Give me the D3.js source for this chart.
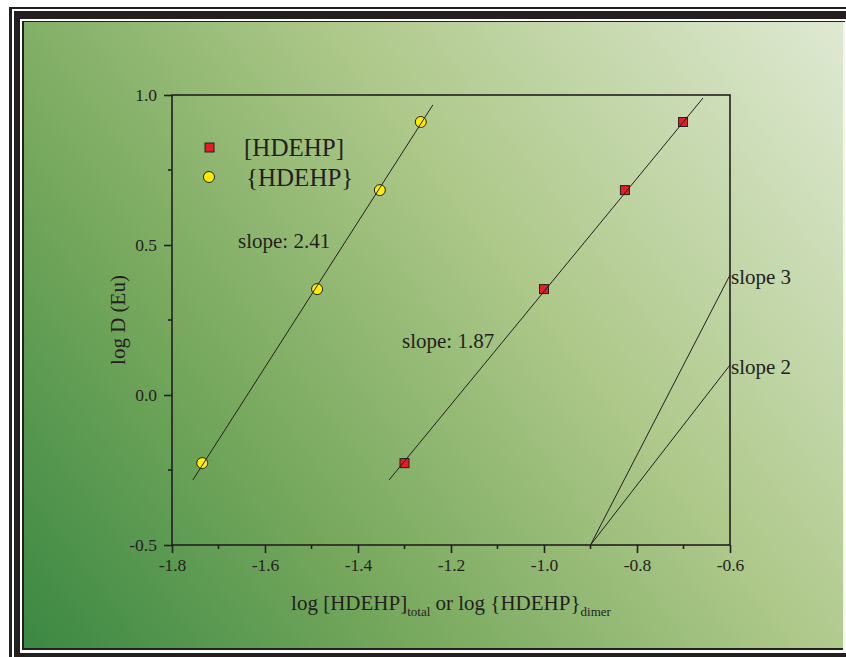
<!DOCTYPE html>
<html>
<head>
<meta charset="utf-8">
<script src="https://cdn.jsdelivr.net/npm/d3@7/dist/d3.min.js"></script>
<style>
  html, body { margin: 0; padding: 0; background: #fff; }
  svg { display: block; }
  text { font-family: "Liberation Serif", "DejaVu Serif", serif; fill: #231f20; }
</style>
</head>
<body>
<div id="chart"></div>
<script>
// data
const totalX = [-1.30, -1.00, -0.826, -0.701];
const totalY = [-0.227, 0.353, 0.683, 0.91];
const dimerX = [-1.735, -1.488, -1.353, -1.265];
const dimerY = [-0.227, 0.353, 0.683, 0.91];

// fitted lines, end points [x0, y0, x1, y1]
const fitTotal = [-1.333, -0.283, -0.658, 0.99];
const fitDimer = [-1.755, -0.283, -1.239, 0.967];

// reference slopes from (-0.9, -0.5) to x = -0.6
const refSlopes = [
  { name: 'slope 3', x0: -0.9, y0: -0.5, x1: -0.6, y1: 0.4 },
  { name: 'slope 2', x0: -0.9, y0: -0.5, x1: -0.6, y1: 0.1 }
];

const xTicks = [-1.8, -1.6, -1.4, -1.2, -1.0, -0.8, -0.6];
const yTicks = [-0.5, 0.0, 0.5, 1.0];
const xMinor = [-1.7, -1.5, -1.3, -1.1, -0.9, -0.7];
const yMinor = [-0.25, 0.25, 0.75];

const W = 846, H = 657;
const plot = { left: 172, right: 730, top: 95, bottom: 545 };
const ink = '#231f20';

const svg = d3.select('#chart').append('svg')
  .attr('width', W)
  .attr('height', H);

const grad = svg.append('defs').append('linearGradient')
  .attr('id', 'bg')
  .attr('gradientUnits', 'userSpaceOnUse')
  .attr('x1', 24).attr('y1', 648)
  .attr('x2', 843).attr('y2', 22);
grad.append('stop').attr('offset', 0).attr('stop-color', '#3b8843');
grad.append('stop').attr('offset', 0.3).attr('stop-color', '#76a85d');
grad.append('stop').attr('offset', 0.6).attr('stop-color', '#adc889');
grad.append('stop').attr('offset', 1).attr('stop-color', '#dfe9d2');

// frame: thin black, white gap, thick black, white gap, thin dark
svg.append('rect').attr('x', 9).attr('y', 7).attr('width', 850).attr('height', 660).attr('fill', ink);
svg.append('rect').attr('x', 12).attr('y', 9).attr('width', 850).attr('height', 660).attr('fill', '#fff');
svg.append('rect').attr('x', 14).attr('y', 11).attr('width', 850).attr('height', 660).attr('fill', ink);
svg.append('rect').attr('x', 20).attr('y', 19).attr('width', 826).attr('height', 634).attr('fill', '#fff');
svg.append('rect').attr('x', 22).attr('y', 21).attr('width', 823).attr('height', 629).attr('fill', ink);
svg.append('rect').attr('x', 24).attr('y', 22).attr('width', 819).attr('height', 626).attr('fill', 'url(#bg)');
svg.append('rect').attr('x', 843).attr('y', 22).attr('width', 2).attr('height', 628).attr('fill', '#f4f4f0');

const x = d3.scaleLinear().domain([-1.8, -0.6]).range([plot.left, plot.right]);
const y = d3.scaleLinear().domain([-0.5, 1.0]).range([plot.bottom, plot.top]);
const fmt = d => d3.format('.1f')(d).replace('−', '-');

// axes
const xAxis = svg.append('g')
  .attr('transform', `translate(0,${plot.bottom})`)
  .call(d3.axisBottom(x).tickValues(xTicks).tickSize(8).tickPadding(6).tickFormat(fmt));
const yAxis = svg.append('g')
  .attr('transform', `translate(${plot.left},0)`)
  .call(d3.axisLeft(y).tickValues(yTicks).tickSize(8).tickPadding(7).tickFormat(fmt));

[xAxis, yAxis].forEach(a => {
  a.attr('font-size', null).attr('font-family', null);
  a.select('.domain').remove();
  a.selectAll('line').attr('stroke', ink).attr('stroke-width', 1.6);
  a.selectAll('text').style('font-size', '17.5px').attr('fill', ink);
});

svg.append('g').selectAll('line').data(xMinor).join('line')
  .attr('x1', d => x(d)).attr('x2', d => x(d))
  .attr('y1', plot.bottom).attr('y2', plot.bottom + 4)
  .attr('stroke', ink).attr('stroke-width', 1.6);
svg.append('g').selectAll('line').data(yMinor).join('line')
  .attr('y1', d => y(d)).attr('y2', d => y(d))
  .attr('x1', plot.left).attr('x2', plot.left - 4)
  .attr('stroke', ink).attr('stroke-width', 1.6);

svg.append('rect')
  .attr('x', plot.left).attr('y', plot.top)
  .attr('width', plot.right - plot.left).attr('height', plot.bottom - plot.top)
  .attr('fill', 'none').attr('stroke', ink).attr('stroke-width', 1.6);

// reference slope lines
svg.append('g').selectAll('line').data(refSlopes).join('line')
  .attr('x1', d => x(d.x0)).attr('y1', d => y(d.y0))
  .attr('x2', d => x(d.x1)).attr('y2', d => y(d.y1))
  .attr('stroke', ink).attr('stroke-width', 1);
svg.append('g').selectAll('text').data(refSlopes).join('text')
  .attr('x', d => x(d.x1) + 1).attr('y', d => y(d.y1) + 9)
  .style('font-size', '21px')
  .text(d => d.name);

// markers
const totalPts = totalX.map((v, i) => ({ x: v, y: totalY[i] }));
const dimerPts = dimerX.map((v, i) => ({ x: v, y: dimerY[i] }));
const sq = 9;

svg.append('g').selectAll('rect').data(totalPts).join('rect')
  .attr('x', d => x(d.x) - sq / 2).attr('y', d => y(d.y) - sq / 2)
  .attr('width', sq).attr('height', sq)
  .attr('fill', '#e31e25').attr('stroke', ink).attr('stroke-width', 1);
svg.append('g').selectAll('circle').data(dimerPts).join('circle')
  .attr('cx', d => x(d.x)).attr('cy', d => y(d.y)).attr('r', 5.5)
  .attr('fill', '#ffec00').attr('stroke', ink).attr('stroke-width', 1);

// fit lines (drawn over markers)
svg.append('g').selectAll('line').data([fitTotal, fitDimer]).join('line')
  .attr('x1', d => x(d[0])).attr('y1', d => y(d[1]))
  .attr('x2', d => x(d[2])).attr('y2', d => y(d[3]))
  .attr('stroke', ink).attr('stroke-width', 1);

// slope annotations
svg.append('text').attr('x', 238).attr('y', 248).style('font-size', '21px').text('slope: 2.41');
svg.append('text').attr('x', 402).attr('y', 348).style('font-size', '21px').text('slope: 1.87');

// legend
svg.append('rect').attr('x', 205).attr('y', 143).attr('width', sq).attr('height', sq)
  .attr('fill', '#e31e25').attr('stroke', ink).attr('stroke-width', 1);
svg.append('circle').attr('cx', 209).attr('cy', 177).attr('r', 5.5)
  .attr('fill', '#ffec00').attr('stroke', ink).attr('stroke-width', 1);
svg.append('text').attr('x', 244).attr('y', 156).style('font-size', '25px').text('[HDEHP]');
svg.append('text').attr('x', 246).attr('y', 186).style('font-size', '25px').text('{HDEHP}');

// axis titles
const xt = svg.append('text')
  .attr('x', 451).attr('y', 610)
  .attr('text-anchor', 'middle')
  .style('font-size', '21px');
xt.append('tspan').text('log [HDEHP]');
xt.append('tspan').style('font-size', '13px').attr('dy', 6).text('total');
xt.append('tspan').attr('dy', -6).text(' or log {HDEHP}');
xt.append('tspan').style('font-size', '13px').attr('dy', 6).text('dimer');

svg.append('text')
  .attr('transform', 'translate(125,320) rotate(-90)')
  .attr('text-anchor', 'middle')
  .style('font-size', '21px')
  .text('log D (Eu)');
</script>
</body>
</html>
